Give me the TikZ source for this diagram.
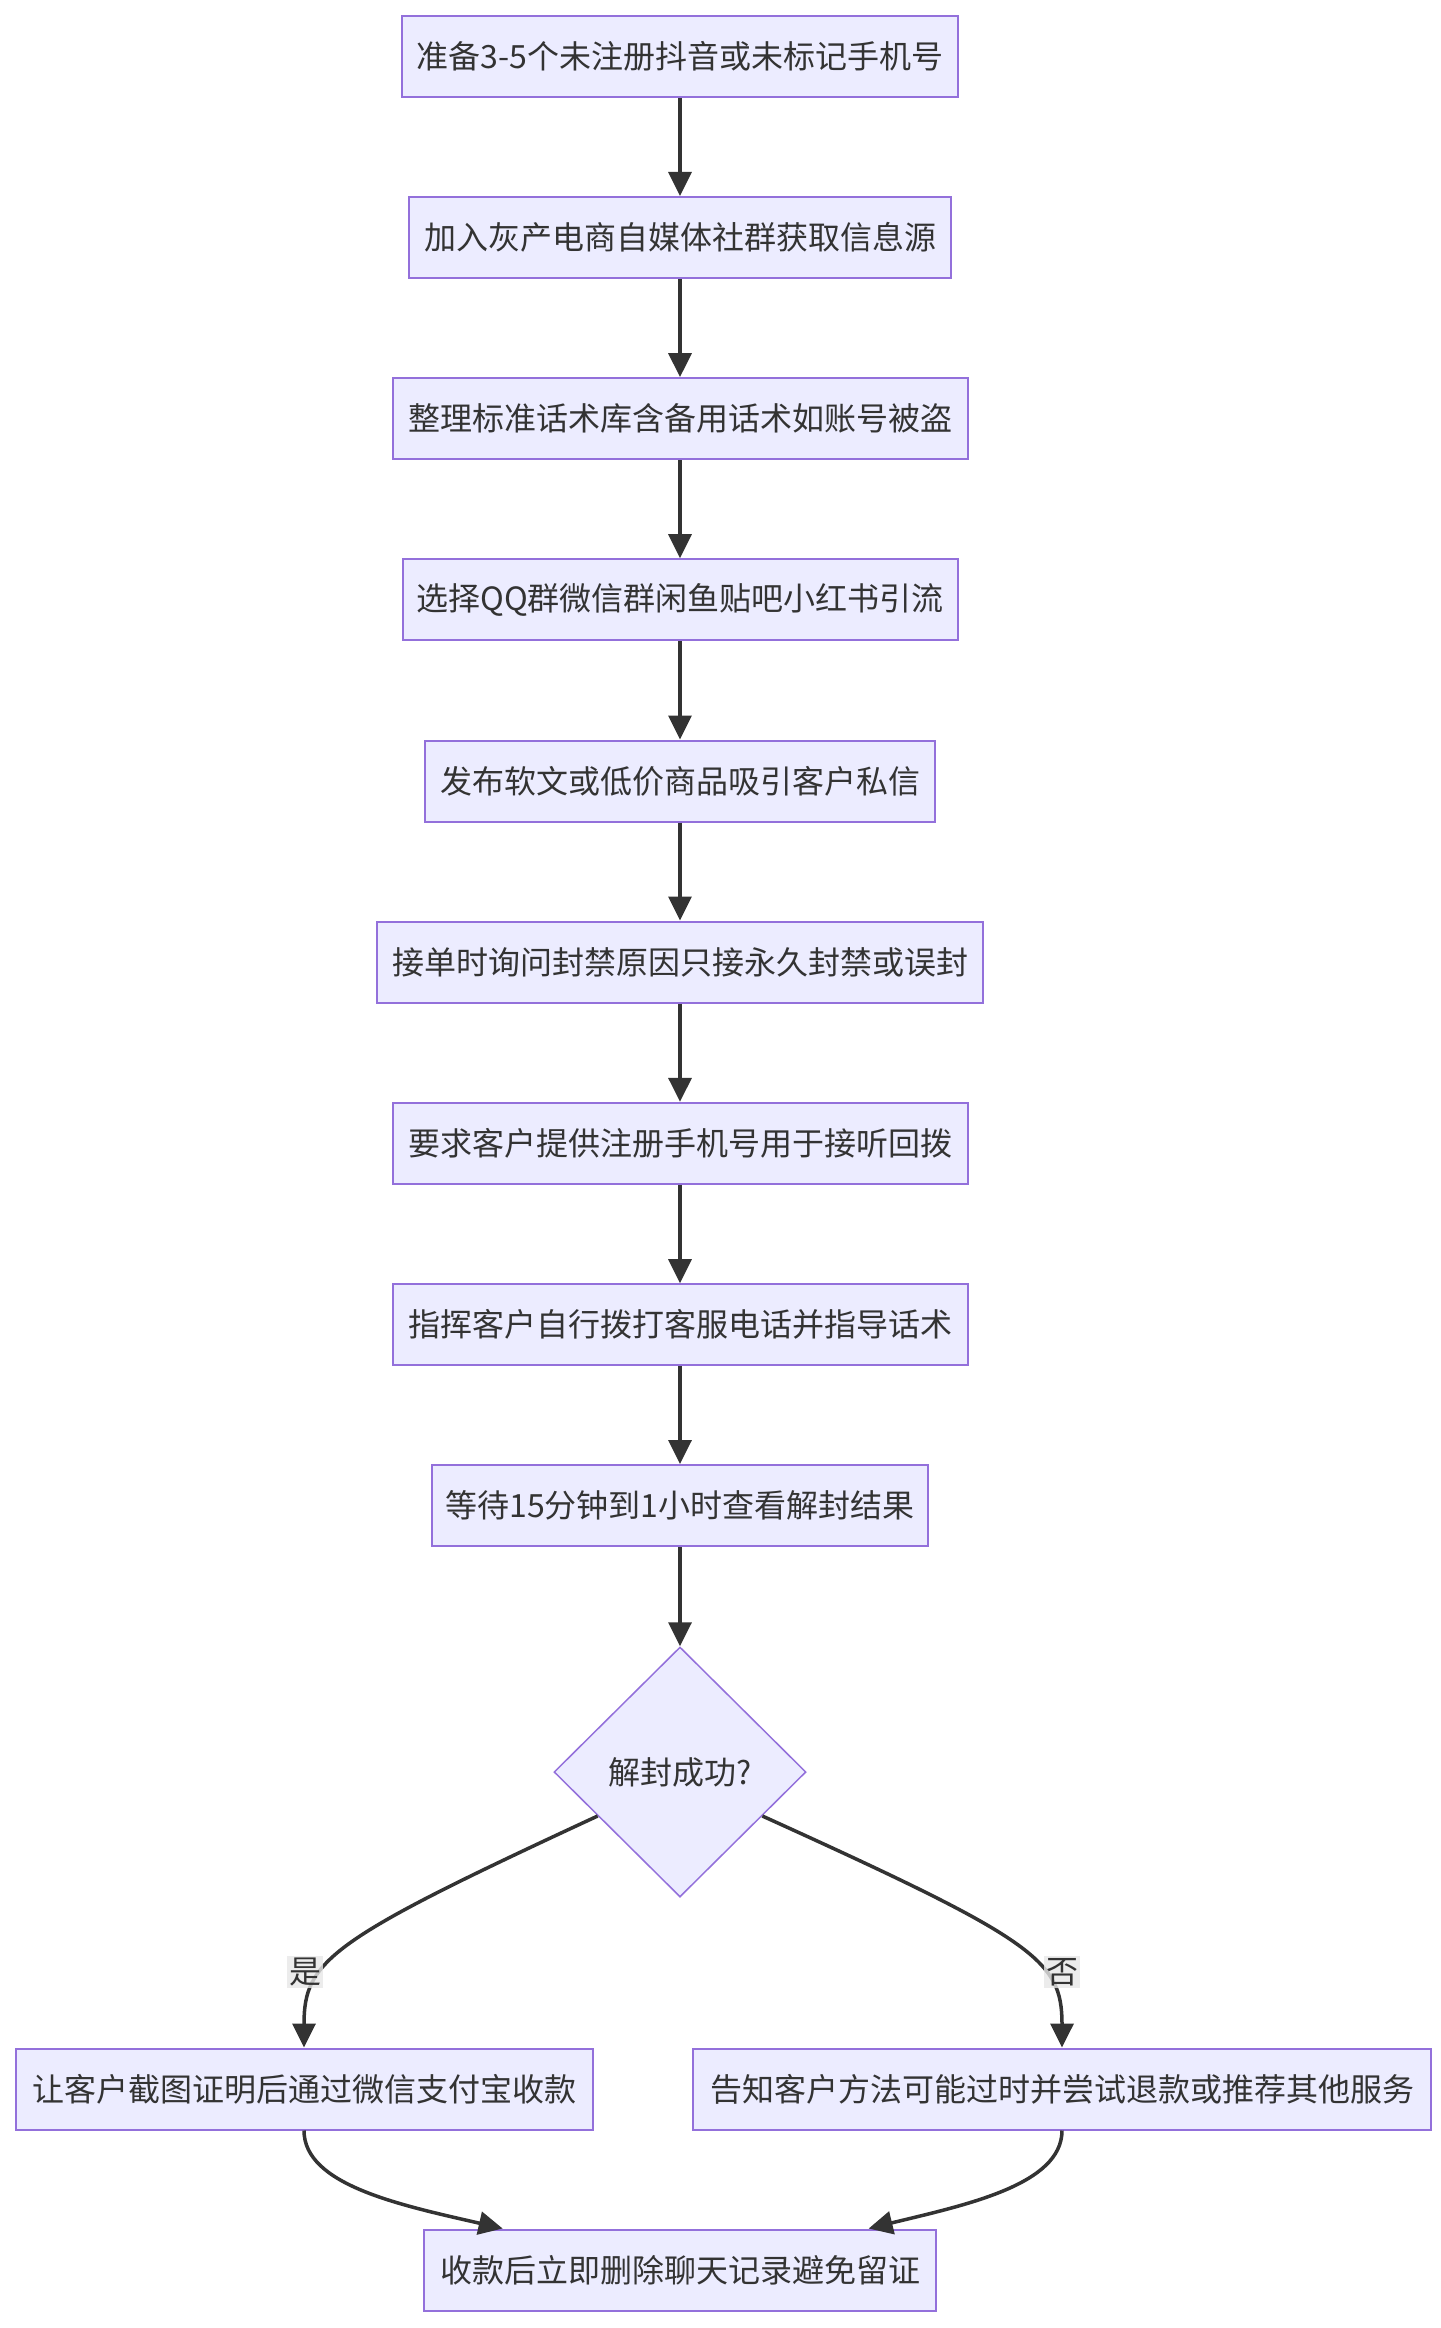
\documentclass[tikz,border=0pt]{standalone}
\usepackage{fontspec}
\newfontfamily\cjk{Noto Sans CJK SC}
\usetikzlibrary{arrows.meta,shapes.geometric,calc}
\definecolor{nodefill}{HTML}{ECECFF}
\definecolor{nodeborder}{HTML}{9370DB}
\definecolor{edgecol}{HTML}{333333}
\definecolor{labelbg}{HTML}{E8E8E8}
\begin{document}
\begin{tikzpicture}[x=1pt,y=-1pt,
  txt/.style={font=\cjk\fontsize{32}{38}\selectfont, text=edgecol},
  box/.style={txt, rectangle, draw=nodeborder, fill=nodefill, line width=2pt,
    minimum height=81pt, inner xsep=8pt, inner ysep=0pt},
  decision/.style={txt, diamond, aspect=1, draw=nodeborder, fill=nodefill, line width=1.5pt,
    minimum width=252pt, minimum height=250pt, inner sep=0pt},
  flow/.style={draw=edgecol, line width=3.5pt, -{Triangle[length=24pt,width=23pt]}},
  elabel/.style={txt, fill=labelbg, fill opacity=0.8, text opacity=1, inner sep=2pt}]
\fill[white] (0,0) rectangle (1440,2328);
\useasboundingbox (0,0) rectangle (1440,2328);

\node[box, minimum width=556pt] (n1) at (680,56.5) {准备3-5个未注册抖音或未标记手机号};
\node[box, minimum width=542pt] (n2) at (680,237.5) {加入灰产电商自媒体社群获取信息源};
\node[box, minimum width=575pt] (n3) at (680,418.6) {整理标准话术库含备用话术如账号被盗};
\node[box, minimum width=555pt] (n4) at (680,599.7) {选择QQ群微信群闲鱼贴吧小红书引流};
\node[box, minimum width=510pt] (n5) at (680,781) {发布软文或低价商品吸引客户私信};
\node[box, minimum width=606pt] (n6) at (680,962) {接单时询问封禁原因只接永久封禁或误封};
\node[box, minimum width=575pt] (n7) at (680,1143.3) {要求客户提供注册手机号用于接听回拨};
\node[box, minimum width=575pt] (n8) at (680,1324.7) {指挥客户自行拨打客服电话并指导话术};
\node[box, minimum width=496pt] (n9) at (680,1505.5) {等待15分钟到1小时查看解封结果};
\node[decision] (dec) at (680,1772) {解封成功?};
\node[box, minimum width=577pt] (n10) at (304,2089) {让客户截图证明后通过微信支付宝收款};
\node[box, minimum width=738pt] (n11) at (1062,2089) {告知客户方法可能过时并尝试退款或推荐其他服务};
\node[box, minimum width=512pt] (n12) at (680,2270) {收款后立即删除聊天记录避免留证};

\draw[flow] (n1.south) -- (n2.north);
\draw[flow] (n2.south) -- (n3.north);
\draw[flow] (n3.south) -- (n4.north);
\draw[flow] (n4.south) -- (n5.north);
\draw[flow] (n5.south) -- (n6.north);
\draw[flow] (n6.south) -- (n7.north);
\draw[flow] (n7.south) -- (n8.north);
\draw[flow] (n8.south) -- (n9.north);
\draw[flow] (n9.south) -- (dec.north);

\draw[flow] ($(dec.west)!0.35!(dec.south)$) .. controls (330,1940) and (304,1960) .. (n10.north);
\draw[flow] ($(dec.east)!0.35!(dec.south)$) .. controls (1036,1940) and (1062,1960) .. (n11.north);
\node[elabel] (ly) at (305,1972) {是};
\node[elabel] (ln) at (1062,1972) {否};

\draw[flow] (n10.south) .. controls (304,2185) and (400,2205) .. ($(n12.north west)!0.155!(n12.north east)$);
\draw[flow] (n11.south) .. controls (1062,2185) and (965,2205) .. ($(n12.north west)!0.867!(n12.north east)$);
\end{tikzpicture}
\end{document}
